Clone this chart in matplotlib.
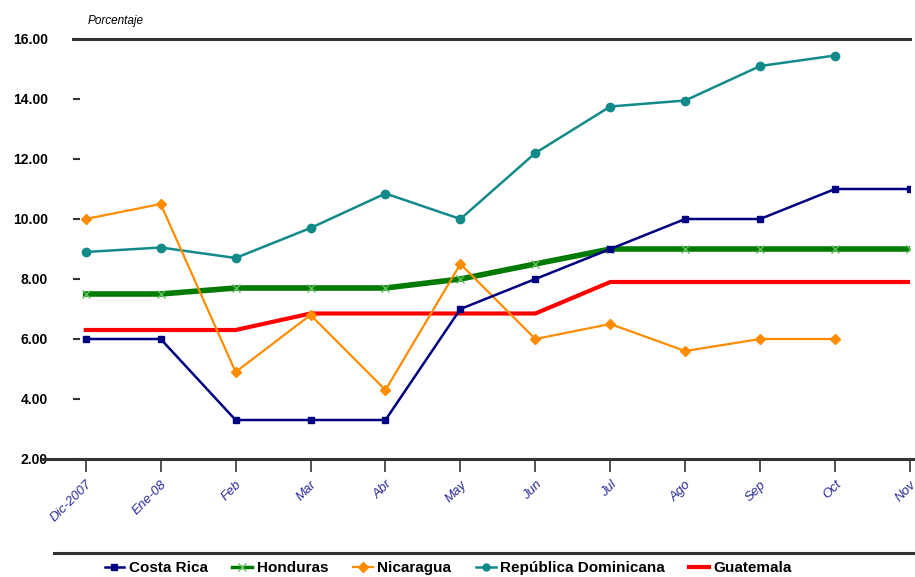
import matplotlib
matplotlib.use("Agg")
import matplotlib.pyplot as plt
from matplotlib.lines import Line2D

months = ["Dic-2007", "Ene-08", "Feb", "Mar", "Abr", "May", "Jun", "Jul",
          "Ago", "Sep", "Oct", "Nov"]

costa_rica = [6.0, 6.0, 3.3, 3.3, 3.3, 7.0, 8.0, 9.0, 10.0, 10.0, 11.0, 11.0]
honduras = [7.5, 7.5, 7.7, 7.7, 7.7, 8.0, 8.5, 9.0, 9.0, 9.0, 9.0, 9.0]
nicaragua = [10.0, 10.5, 4.9, 6.8, 4.3, 8.5, 6.0, 6.5, 5.6, 6.0, 6.0]
rep_dominicana = [8.9, 9.05, 8.7, 9.7, 10.85, 10.0, 12.2, 13.75, 13.95, 15.1, 15.45]
guatemala = [6.3, 6.3, 6.3, 6.85, 6.85, 6.85, 6.85, 7.9, 7.9, 7.9, 7.9, 7.9]

yticks = [2, 4, 6, 8, 10, 12, 14, 16]

W, H = 915, 577
fig = plt.figure(figsize=(W / 100, H / 100), dpi=100)
ax = fig.add_axes([73 / W, 1 - 459 / H, (910 - 73) / W, (459 - 39) / H])

x = list(range(len(months)))

ax.plot(x, guatemala, color="#ff0000", lw=3.0, label="Guatemala", zorder=3)
ax.plot(x, honduras, color="#007a00", lw=4.0, marker="x", ms=6, mew=1.0,
        mec="#5fbf5f", label="Honduras", zorder=3)
ax.plot(x[:len(rep_dominicana)], rep_dominicana, color="#138a8a", lw=1.8,
        marker="o", ms=6, label="República Dominicana", zorder=4)
ax.plot(x[:len(nicaragua)], nicaragua, color="#ff8c00", lw=1.6,
        marker="D", ms=5, label="Nicaragua", zorder=4)
ax.plot(x, costa_rica, color="#000080", lw=1.8, marker="s", ms=5,
        label="Costa Rica", zorder=5)

ax.set_xlim(-0.17, 11)
ax.set_ylim(2, 16)

ax.set_yticks(yticks)
ax.set_yticklabels([f"{v:.2f}" for v in yticks], fontsize=10, fontweight="bold",
                   family="Liberation Sans")
ax.tick_params(axis="y", direction="in", length=5, width=1.5, color="#333333",
               pad=18)

ax.set_xticks(x)
ax.set_xticklabels(months, rotation=45, ha="right", va="top",
                   rotation_mode="anchor", fontsize=9.5, style="italic",
                   color="#2a2a9a", family="Liberation Sans")
ax.tick_params(axis="x", direction="out", length=9, width=1.2, color="#333333",
               pad=5)

for side in ("left", "right", "bottom"):
    ax.spines[side].set_visible(False)
ax.spines["top"].set_linewidth(2.2)
ax.spines["top"].set_color("#333333")

# extended baseline at 2.00
fig.add_artist(Line2D([43 / W, 1.0], [1 - 459 / H] * 2, color="#333333", lw=2.2))
# rule above the legend
fig.add_artist(Line2D([54 / W, 1.0], [1 - 553 / H] * 2, color="#333333", lw=2.2))

fig.text(88 / W, 1 - 21 / H, "Porcentaje", fontsize=8.5, style="italic",
         family="Liberation Sans", va="center", ha="left")

handles = [
    Line2D([], [], color="#000080", lw=1.8, marker="s", ms=5),
    Line2D([], [], color="#007a00", lw=2.5, marker="x", ms=6, mec="#5fbf5f"),
    Line2D([], [], color="#ff8c00", lw=1.6, marker="D", ms=5),
    Line2D([], [], color="#138a8a", lw=1.8, marker="o", ms=5),
    Line2D([], [], color="#ff0000", lw=3.0),
]
labels = ["Costa Rica", "Honduras", "Nicaragua", "República Dominicana", "Guatemala"]
fig.legend(handles, labels, loc="center", bbox_to_anchor=(0.49, 1 - 568 / H),
           ncol=5, frameon=False, handlelength=1.3, handletextpad=0.3,
           columnspacing=1.6, prop={"family": "Liberation Sans", "size": 11,
                                     "weight": "bold"})

fig.savefig("out.png", dpi=100)
